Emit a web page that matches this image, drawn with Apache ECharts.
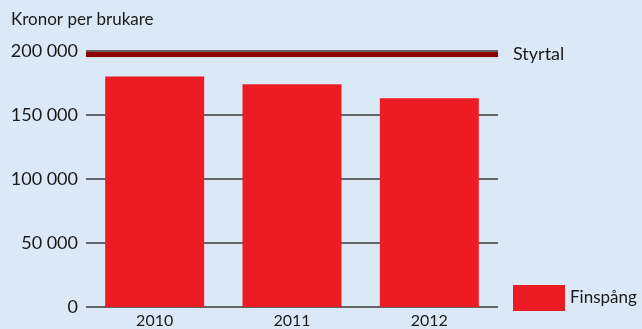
<!DOCTYPE html>
<html>
<head>
<meta charset="utf-8">
<script src="https://cdn.jsdelivr.net/npm/echarts@6/dist/echarts.min.js"></script>
<style>
  html, body { margin: 0; padding: 0; background: #dbe9f6; }
  #chart { width: 642px; height: 329px; }
</style>
</head>
<body>
<div id="chart"></div>
<script>
// Cost per user (SEK), Finspång, against the target level
const years = ['2010', '2011', '2012'];
const finspang = [180000, 174000, 163000];
const styrtal = 197500;
const yTicks = [0, 50000, 100000, 150000, 200000];

const FONT = 'Lato';
const fmt = v => String(v).replace(/\B(?=(\d{3})+(?!\d))/g, ' ');

const chart = echarts.init(document.getElementById('chart'), null, { renderer: 'canvas' });
chart.setOption({
  backgroundColor: '#dbe9f6',
  animation: false,
  title: {
    text: 'Kronor per brukare',
    left: 11, top: 11, padding: 0,
    textStyle: { fontFamily: FONT, fontSize: 17, fontWeight: 'normal', color: '#1a1a1a' }
  },
  legend: {
    data: [{ name: 'Finspång', icon: 'rect' }],
    left: 513, top: 285, padding: 0,
    itemWidth: 52, itemHeight: 26, itemGap: 0,
    textStyle: { fontFamily: FONT, fontSize: 17, color: '#1a1a1a' }
  },
  grid: { left: 86, right: 144, top: 51, bottom: 21 },
  xAxis: {
    type: 'category',
    data: years,
    axisLine: { show: false },
    axisTick: { show: false },
    axisLabel: { fontFamily: FONT, fontSize: 16, color: '#1a1a1a', margin: 6 }
  },
  yAxis: {
    type: 'value',
    min: yTicks[0], max: yTicks[yTicks.length - 1], interval: 50000,
    axisLine: { show: false },
    axisTick: { show: false },
    axisLabel: { fontFamily: FONT, fontSize: 18, color: '#1a1a1a', margin: 8, formatter: fmt },
    splitLine: { lineStyle: { color: '#383838', width: 1.5 } }
  },
  series: [{
    name: 'Finspång',
    type: 'bar',
    data: finspang,
    barWidth: 99,
    itemStyle: { color: '#ed1c24' },
    markLine: {
      symbol: 'none',
      silent: true,
      data: [{ name: 'Styrtal', yAxis: styrtal }],
      lineStyle: { color: '#8e0008', width: 5, type: 'solid', shadowColor: 'rgba(200,60,70,0.6)', shadowBlur: 1 },
      label: {
        show: true, position: 'end', formatter: '{b}', distance: 15,
        fontFamily: FONT, fontSize: 18, color: '#1a1a1a'
      }
    }
  }]
});
</script>
</body>
</html>
